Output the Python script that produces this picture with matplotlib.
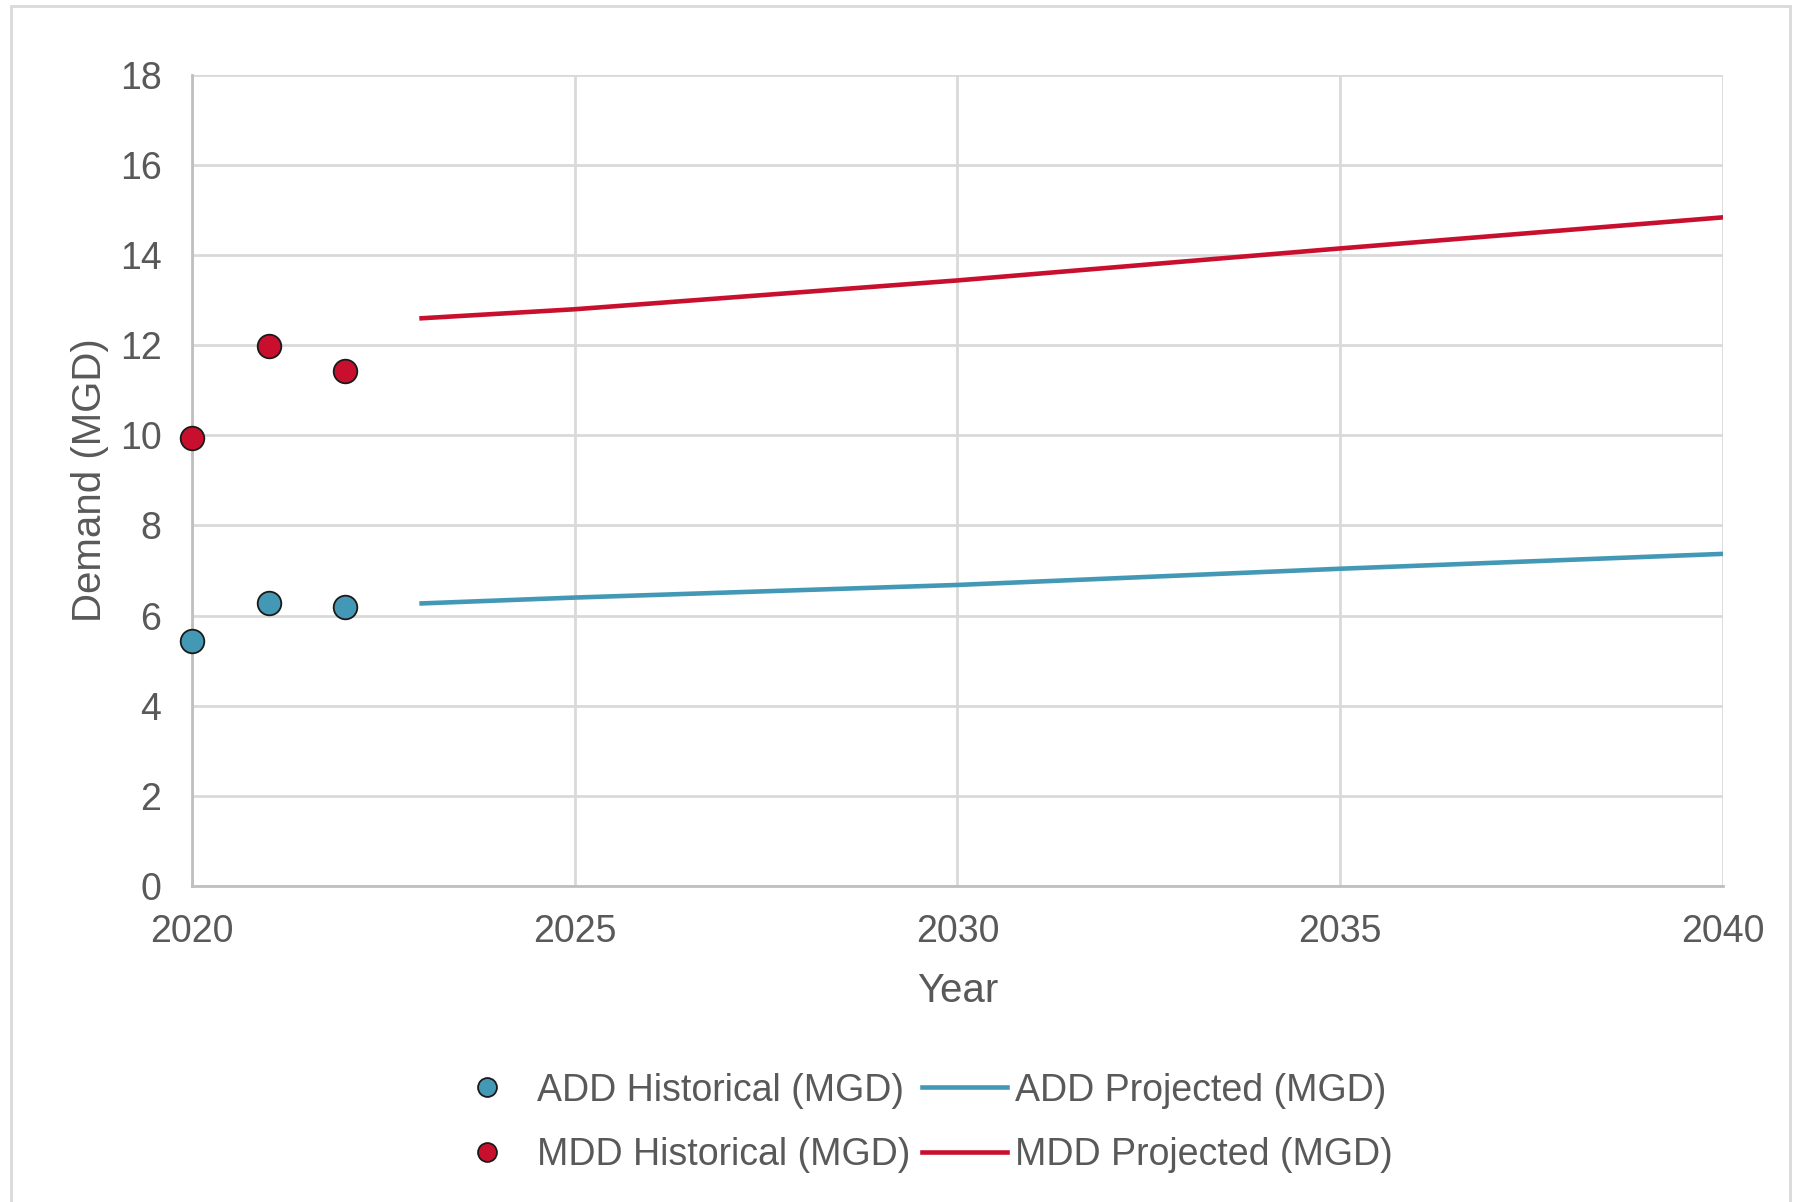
import matplotlib
matplotlib.use("Agg")
import matplotlib.pyplot as plt
from matplotlib.patches import Rectangle

plt.rcParams["font.family"] = ["Liberation Sans", "DejaVu Sans"]

# -----------------------------------------------------------------------
# Data
# -----------------------------------------------------------------------
hist_years = [2020, 2021, 2022]
add_hist = [5.43, 6.27, 6.20]
mdd_hist = [9.94, 11.98, 11.42]

proj_years = [2023, 2025, 2030, 2035, 2040]
add_proj = [6.27, 6.40, 6.68, 7.04, 7.37]
mdd_proj = [12.60, 12.80, 13.44, 14.15, 14.84]

x_ticks = [2020, 2025, 2030, 2035, 2040]
y_ticks = list(range(0, 19, 2))

BLUE = "#4399B5"
RED = "#C8102E"
TXT = "#595959"
GRID = "#D9D9D9"

fig = plt.figure(figsize=(18.01, 12.02), dpi=100)
ax = fig.add_axes([0.1066, 0.263, 0.85, 0.6746])

ax.plot(proj_years, add_proj, color=BLUE, lw=3.3, label="ADD Projected (MGD)", zorder=3)
ax.plot(proj_years, mdd_proj, color=RED, lw=3.3, label="MDD Projected (MGD)", zorder=3)
ax.plot(hist_years, add_hist, "o", ms=17, mfc=BLUE, mec="#1a1a1a", mew=1.3,
        label="ADD Historical (MGD)", zorder=4, clip_on=False)
ax.plot(hist_years, mdd_hist, "o", ms=17, mfc=RED, mec="#1a1a1a", mew=1.3,
        label="MDD Historical (MGD)", zorder=4, clip_on=False)

ax.set_xlim(2020, 2040)
ax.set_ylim(0, 18)
ax.set_xticks(x_ticks)
ax.set_yticks(y_ticks)
ax.grid(True, color=GRID, lw=2)
ax.set_axisbelow(True)
for s in ["top", "right"]:
    ax.spines[s].set_visible(False)
for s in ["left", "bottom"]:
    ax.spines[s].set_color("#BFBFBF")
    ax.spines[s].set_linewidth(2)
ax.tick_params(length=0, labelsize=27, labelcolor=TXT)
ax.tick_params(axis="y", pad=22)
ax.tick_params(axis="x", pad=20)

ax.set_xlabel("Year", fontsize=29, color=TXT, labelpad=16)
ax.set_ylabel("Demand (MGD)", fontsize=29, color=TXT, labelpad=8)

h, l = ax.get_legend_handles_labels()
order = [2, 3, 0, 1]
leg = fig.legend([h[i] for i in order], [l[i] for i in order], ncol=2,
                 loc="center", bbox_to_anchor=(0.51, 0.066), frameon=False,
                 fontsize=27, labelcolor=TXT, handlelength=2.27, markerscale=0.8,
                 columnspacing=0.3, handletextpad=0.2, labelspacing=0.75)

# outer chart border
fig.patches.append(Rectangle((0.006, -0.01), 0.988, 1.005, transform=fig.transFigure,
                             fill=False, ec="#D9D9D9", lw=2))

fig.savefig("out.png", dpi=100)
